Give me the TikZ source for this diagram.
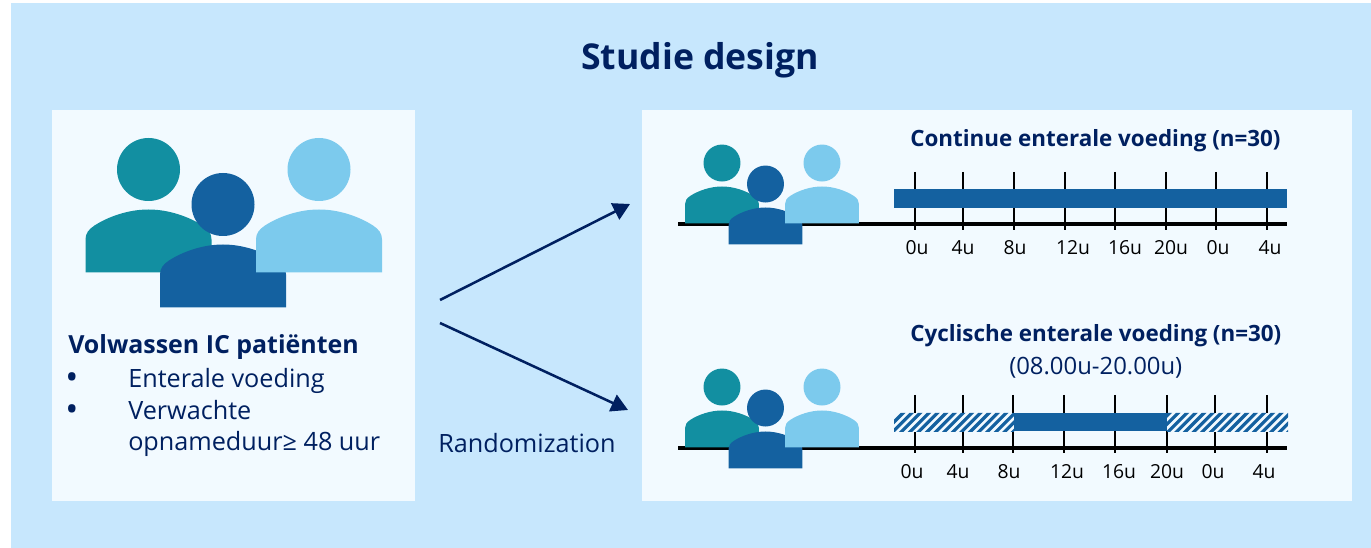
\documentclass[tikz,border=0pt]{standalone}
\usepackage{fontspec}
\setmainfont{Open Sans}
\definecolor{bgblue}{HTML}{C7E7FD}
\definecolor{panel}{HTML}{F2FAFF}
\definecolor{teal1}{HTML}{128FA1}
\definecolor{blue1}{HTML}{1461A0}
\definecolor{light1}{HTML}{7CCAED}
\definecolor{navy1}{HTML}{002060}
\usetikzlibrary{arrows.meta}
\tikzset{
  txt/.style={text=navy1,inner sep=0pt,anchor=base west,font=\fontsize{#1}{#1}\selectfont},
  txtb/.style={text=navy1,inner sep=0pt,anchor=base west,font=\fontsize{#1}{#1}\selectfont\bfseries},
  hour/.style={text=black,inner sep=0pt,anchor=base,font=\fontsize{14.5}{14.5}\selectfont},
  axis/.style={line width=2.4pt,black},
  tick/.style={line width=2pt,black},
  arr/.style={line width=1.9pt,navy1,-{Triangle[length=12.5pt,width=13.5pt]}},
  person/.pic={
    \fill[pic actions] (0,-40) circle (31.5);
    \fill[pic actions] (-63,63) -- (-63,30) .. controls (-63,24) and (-60,20) .. (-54,16)
      .. controls (-40,7) and (-20,0) .. (0,0) .. controls (20,0) and (40,7) .. (54,16)
      .. controls (60,20) and (63,24) .. (63,30) -- (63,63) -- cycle;
  }
}
\begin{document}
\begin{tikzpicture}[x=0.75pt,y=-0.75pt]
\useasboundingbox (0,0) rectangle (1371,548);
\fill[bgblue] (11,3) rectangle (1371,548);
\fill[panel] (52,110) rectangle (415,501);
\fill[panel] (642,110) rectangle (1352,501);

\node[txtb=26.7] (title) at (581,70) {Studie design};

% large group
\path pic[teal1] at (148.5,209.5) {person};
\path pic[blue1] at (223,244.5) {person};
\path pic[light1] at (319,209.5) {person};

\node[txtb=18.7] (lead) at (68,354) {Volwassen IC patiënten};
\node[txt=26] (b1) at (65,389.5) {•};
\node[txt=18.9] (t1) at (128,388) {Enterale voeding};
\node[txt=26] (b2) at (65,421.5) {•};
\node[txt=18.9] (t2) at (128,420) {Verwachte};
\node[txt=18.9] (t3) at (128,451) {opnameduur≥ 48 uur};
\node[txt=18.9] (rand) at (438,453) {Randomization};

% arrows
\coordinate (a0) at (440,300);
\coordinate (a1) at (630,204);
\coordinate (b0) at (440,323);
\coordinate (b3) at (628,410);
\draw[arr] (a0) -- (a1);
\draw[arr] (b0) -- (b3);

% top timeline
\foreach \x in {915,963,1014,1065,1115,1166,1216,1267}
  \draw[tick] (\x,172) -- (\x,230);
\draw[axis] (678,224) -- (1287,224);
\fill[blue1] (894,189) rectangle (1287,208);
\path pic[teal1,scale=0.587] at (722,186.5) {person};
\path pic[blue1,scale=0.587] at (765.5,207.5) {person};
\path pic[light1,scale=0.587] at (822,186.5) {person};
\node[txtb=16.8] (h1) at (910,147) {Continue enterale voeding (n=30)};
\foreach \x/\l in {917/0u,963/4u,1015/8u,1073/12u,1125/16u,1171/20u,1218/0u,1270/4u}
  \node[hour] at (\x,255) {\l};

% bottom timeline
\foreach \x in {915,963,1013,1064,1115,1167,1215,1267}
  \draw[tick] (\x,395) -- (\x,453);
\draw[axis] (678,448) -- (1287,448);
\fill[panel] (894,413) rectangle (1014,432);
\fill[panel] (1167,413) rectangle (1288,432);
\begin{scope}
  \clip (894,413) rectangle (1014,432) (1167,413) rectangle (1288,432);
  \foreach \x in {880,888.6,...,1300}
    \draw[blue1,line width=2.4pt] (\x,436) -- (\x+26,410);
\end{scope}
\fill[blue1] (1014,413) rectangle (1167,431);
\path pic[teal1,scale=0.587] at (722,410.5) {person};
\path pic[blue1,scale=0.587] at (765.5,431.5) {person};
\path pic[light1,scale=0.587] at (822,410.5) {person};
\node[txtb=16.8] (h2) at (910,342) {Cyclische enterale voeding (n=30)};
\node[txt=17.9] (h3) at (1009,375) {(08.00u-20.00u)};
\foreach \x/\l in {912/0u,958/4u,1009/8u,1067/12u,1119/16u,1167/20u,1213/0u,1264/4u}
  \node[hour] at (\x,479) {\l};
\end{tikzpicture}
\end{document}
